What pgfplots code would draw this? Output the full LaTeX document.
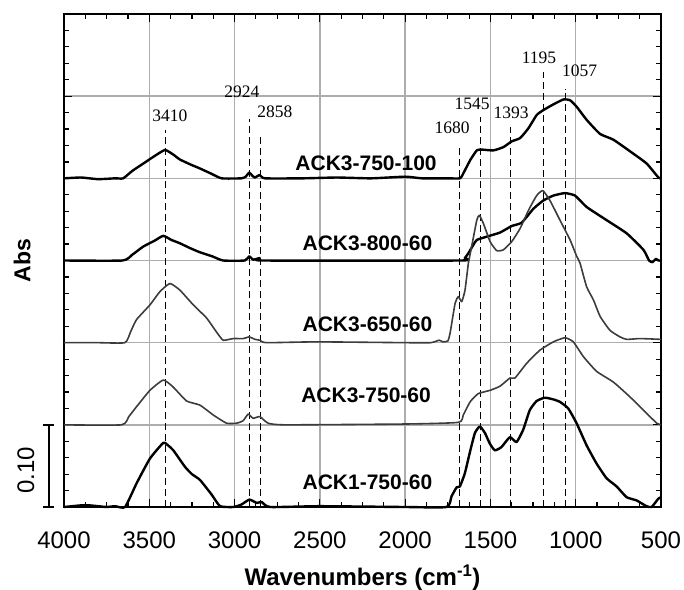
\documentclass[border=0pt]{standalone}
\usepackage{fontspec}
\setmainfont{Liberation Sans}
\newfontfamily\serifnum{Liberation Serif}
\usepackage{pgfplots}
\pgfplotsset{compat=1.18}
\definecolor{spgray}{HTML}{3C3C3C}
\definecolor{gridc}{HTML}{ADADAD}
\begin{document}
\begin{tikzpicture}
\useasboundingbox (-64pt,-82pt) rectangle (620pt,507pt);
\begin{axis}[
 scale only axis, width=597pt, height=493pt,
 xmin=500, xmax=4000, ymin=0, ymax=6, x dir=reverse,
 xtick={500,1000,...,4000}, minor x tick num=3,
 ytick={0,...,6}, yticklabels={,,,,,,,}, minor y tick num=4,
 grid=major, grid style={gridc, line width=1.4pt},
 tick align=inside, major tick length=8pt, minor tick length=5pt,
 every tick/.append style={black, line width=1.2pt},
 axis line style={line width=2pt},
 /pgf/number format/assume math mode=true,
 /pgf/number format/1000 sep={},
 x tick label style={font=\fontsize{24}{28}\selectfont, anchor=base, yshift=-41pt},
 clip=false,
]
% dashed marker lines
\pgfplotsset{mk/.style={black, line width=0.9pt, dash pattern=on 7pt off 4pt, forget plot}}
\addplot[mk] coordinates {(3407,0) (3407,4.59)};
\addplot[mk] coordinates {(2914,0) (2914,4.72)};
\addplot[mk] coordinates {(2848,0) (2848,4.51)};
\addplot[mk] coordinates {(1684,0) (1684,4.37)};
\addplot[mk] coordinates {(1561,0) (1561,4.75)};
\addplot[mk] coordinates {(1381,0) (1381,4.62)};
\addplot[mk] coordinates {(1190,0) (1190,5.29)};
\addplot[mk] coordinates {(1063,0) (1063,5.09)};

\pgfplotsset{sp/.style={line join=round, smooth, tension=0.3}}
% ACK3-750-100
\addplot[black, line width=2.4pt, sp] coordinates {
(4000,4.0) (3900,4.01) (3800,3.99) (3700,4.0) (3653,4.0) (3600,4.09) (3535,4.18) (3470,4.27) (3408,4.345) (3360,4.29) (3321,4.23) (3260,4.17) (3203,4.12) (3140,4.06) (3076,4.0) (2960,4.0) (2935,4.02) (2914,4.07) (2895,4.03) (2881,4.01) (2852,4.04) (2822,4.0) (2600,4.0) (2400,4.01) (2200,4.0) (2000,4.02) (1900,4.0) (1750,4.0) (1678,4.0) (1659,4.06) (1619,4.22) (1580,4.34) (1551,4.35) (1483,4.34) (1424,4.38) (1375,4.45) (1326,4.49) (1277,4.61) (1229,4.77) (1190,4.83) (1131,4.90) (1072,4.96) (1033,4.95) (994,4.87) (935,4.71) (857,4.54) (779,4.47) (662,4.30) (584,4.18) (515,4.01) (500,4.0)};
% ACK3-800-60
\addplot[black, line width=2.4pt, sp] coordinates {
(4000,3.0) (3657,3.0) (3600,3.07) (3535,3.17) (3470,3.24) (3418,3.30) (3370,3.25) (3321,3.21) (3260,3.15) (3203,3.10) (3130,3.05) (3067,3.0) (2940,3.0) (2914,3.05) (2890,3.01) (2852,3.03) (2830,3.0) (1678,3.0) (1650,3.03) (1629,3.09) (1600,3.19) (1580,3.25) (1522,3.29) (1444,3.34) (1375,3.42) (1317,3.46) (1248,3.63) (1190,3.73) (1131,3.79) (1063,3.82) (1004,3.79) (935,3.65) (818,3.49) (701,3.33) (603,3.13) (570,3.0) (550,2.98) (530,3.02) (515,3.0) (500,3.0)};
% ACK3-650-60
\addplot[spgray, line width=1.6pt, sp] coordinates {
(4000,2.0) (3800,2.0) (3643,2.0) (3610,2.13) (3575,2.28) (3496,2.46) (3438,2.62) (3379,2.72) (3321,2.64) (3242,2.46) (3164,2.30) (3106,2.13) (3067,2.03) (3008,2.05) (2950,2.05) (2914,2.07) (2880,2.04) (2852,2.03) (2813,2.0) (2520,2.01) (2000,2.0) (1850,2.0) (1800,2.03) (1780,2.01) (1750,2.02) (1737,2.11) (1707,2.48) (1688,2.56) (1668,2.50) (1649,2.64) (1629,2.97) (1610,3.17) (1580,3.49) (1565,3.55) (1541,3.45) (1502,3.23) (1463,3.12) (1424,3.13) (1375,3.23) (1326,3.39) (1277,3.61) (1229,3.79) (1193,3.85) (1151,3.73) (1092,3.49) (1033,3.25) (994,3.05) (975,2.97) (936,2.68) (896,2.52) (857,2.32) (799,2.15) (740,2.07) (701,2.04) (623,2.05) (500,2.04)};
% ACK3-750-60
\addplot[spgray, line width=1.6pt, sp] coordinates {
(4000,1.0) (3663,1.0) (3620,1.1) (3575,1.22) (3496,1.42) (3418,1.545) (3360,1.46) (3281,1.29) (3203,1.24) (3125,1.12) (3047,1.02) (2988,1.02) (2950,1.05) (2920,1.13) (2891,1.08) (2852,1.10) (2803,1.02) (2700,1.0) (2000,1.01) (1688,1.03) (1659,1.12) (1619,1.28) (1571,1.38) (1502,1.42) (1444,1.47) (1385,1.57) (1356,1.57) (1287,1.75) (1209,1.91) (1131,2.01) (1063,2.06) (1014,2.01) (955,1.83) (877,1.65) (779,1.52) (682,1.34) (584,1.14) (525,1.02) (500,1.0)};
% ACK1-750-60
\addplot[black, line width=2.4pt, sp] coordinates {
(4000,0.0) (3950,0.01) (3900,0.02) (3850,0.02) (3800,0.01) (3750,0.0) (3700,0.01) (3642,0.0) (3574,0.29) (3496,0.59) (3418,0.78) (3390,0.75) (3359,0.69) (3291,0.49) (3250,0.40) (3203,0.33) (3134,0.15) (3085,0.01) (3007,0.0) (2960,0.03) (2913,0.09) (2870,0.05) (2841,0.06) (2792,0.0) (2500,0.01) (2000,0.0) (1757,0.0) (1728,0.13) (1698,0.24) (1679,0.25) (1650,0.41) (1620,0.67) (1591,0.90) (1562,0.98) (1532,0.90) (1503,0.77) (1474,0.69) (1435,0.73) (1386,0.85) (1347,0.79) (1308,0.94) (1269,1.18) (1229,1.29) (1181,1.33) (1132,1.31) (1093,1.28) (1044,1.20) (995,1.02) (936,0.75) (878,0.53) (819,0.35) (760,0.25) (702,0.12) (643,0.08) (585,0.01) (555,0.0) (516,0.10) (500,0.12)};

% series labels
\begin{scope}[every node/.style={font=\fontsize{21}{24}\selectfont\bfseries}]
\node at (axis cs:2229,4.18) {ACK3-750-100};
\node at (axis cs:2221,3.21) {ACK3-800-60};
\node at (axis cs:2221,2.22) {ACK3-650-60};
\node at (axis cs:2229,1.36) {ACK3-750-60};
\node at (axis cs:2221,0.30) {ACK1-750-60};
\end{scope}
% peak labels
\begin{scope}[every node/.style={font=\fontsize{17.5}{20}\serifnum}]
\node at (axis cs:3379,4.76) {3410};
\node at (axis cs:2957,5.05) {2924};
\node at (axis cs:2764,4.81) {2858};
\node at (axis cs:1725,4.62) {1680};
\node at (axis cs:1608,4.91) {1545};
\node at (axis cs:1378,4.80) {1393};
\node at (axis cs:1215,5.47) {1195};
\node at (axis cs:977,5.31) {1057};
\end{scope}
% scale bar
\draw[line width=2pt] (axis cs:4088,0) -- (axis cs:4088,1);
\draw[line width=2pt] (axis cs:4123,1) -- (axis cs:4059,1);
\draw[line width=2pt] (axis cs:4123,0) -- (axis cs:4059,0);
\node[rotate=90, font=\fontsize{24}{28}\selectfont] at (axis cs:4223,0.45) {0.10};
\node[rotate=90, font=\fontsize{23}{28}\selectfont\bfseries] at (axis cs:4246,3.0) {Abs};
\node[anchor=base, font=\fontsize{24}{28}\selectfont\bfseries] at (axis cs:2250,-0.95) {Wavenumbers (cm\textsuperscript{-1})};
\end{axis}
\end{tikzpicture}
\end{document}
